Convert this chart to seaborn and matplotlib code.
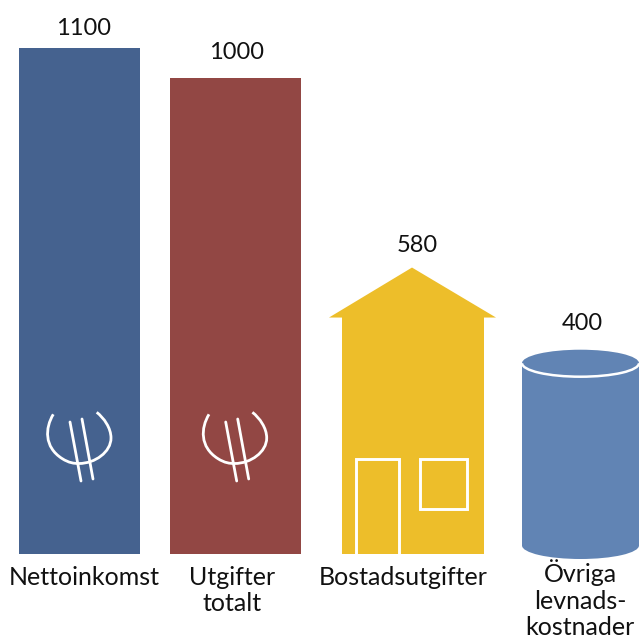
import pandas as pd
import matplotlib
matplotlib.use("Agg")
import matplotlib.pyplot as plt
import seaborn as sns
from matplotlib.patches import Arc, Ellipse, PathPatch, Polygon, Rectangle
from matplotlib.path import Path

# ----- Data -----------------------------------------------------------------
categories = ["Nettoinkomst", "Utgifter\ntotalt", "Bostadsutgifter", "Övriga\nlevnads-\nkostnader"]
value_labels = [1100, 1000, 580, 400]
# heights as drawn, the picture is not to scale with its labels
drawn_heights = [1102, 1037, 623, 444]
colors = ["#45628F", "#924744", "#EDBE2A", "#6184B4"]

# ----- Layout (pixels) ------------------------------------------------------
SIZE = 639
BASE = 553.5
PX = 0.459  # pixels per value unit
bar_left = [19, 170, 342, 522]
bar_right = [140, 301, 484, 639]
label_x = [84, 232, 403, 580]
label_pad = [9, 9, 9, 4]
label_spacing = [1.14, 1.14, 1.14, 1.19]
value_x = [84, 237, 417, 582]
value_gap = [13, 19, 16, 20]

sns.set_theme(style="white")
plt.rcParams["font.family"] = ["Lato", "DejaVu Sans"]

fig = plt.figure(figsize=(SIZE / 100, SIZE / 100), dpi=100)
ax = fig.add_axes([0, (SIZE - BASE) / SIZE, 1, BASE / SIZE])

df = pd.DataFrame({"x": [(l + r) / 2 for l, r in zip(bar_left, bar_right)],
                   "height": drawn_heights, "cat": categories})
sns.barplot(data=df, x="x", y="height", hue="cat", palette=colors, native_scale=True,
            dodge=False, legend=False, saturation=1, linewidth=0, ax=ax)

ax.set_xlim(0, SIZE)
ax.set_ylim(0, BASE / PX)
for s in ax.spines.values():
    s.set_visible(False)
ax.set_xlabel("")
ax.set_ylabel("")
ax.set_yticks([])
ax.set_xticks(label_x, categories)
ax.tick_params(axis="x", length=0, labelsize=18)
for tick, pad, sp in zip(ax.xaxis.get_major_ticks(), label_pad, label_spacing):
    tick.set_pad(pad)
    tick.label1.set_linespacing(sp)
    tick.label1.set_color("#111111")

bars = list(ax.patches)
for bar, l, r in zip(bars, bar_left, bar_right):
    bar.set_x(l)
    bar.set_width(r - l)

# ----- House: body stops at the eave, the roof takes the rest ---------------
house = bars[2]
h_top = drawn_heights[2]
eave = h_top - 50 / PX
house.set_height(eave + 2)
ax.add_patch(Polygon([(329, eave), (412, h_top), (496, eave)], closed=True,
                     facecolor=colors[2], edgecolor="none"))

# ----- Cylinder --------------------------------------------------------------
cyl = bars[3]
c_top = drawn_heights[3]
cap = 27 / PX
c_mid = (bar_left[3] + bar_right[3]) / 2
c_w = bar_right[3] - bar_left[3]
cyl.set_y(8 / PX)
cyl.set_height(c_top - cap / 2 - 8 / PX)
ax.add_patch(Ellipse((c_mid, 8 / PX), c_w, cap, facecolor=colors[3], edgecolor="none", clip_on=False))
ax.add_patch(Ellipse((c_mid, c_top - cap / 2), c_w, cap, facecolor=colors[3], edgecolor="none"))
ax.add_patch(Arc((c_mid, c_top - cap / 2), c_w, cap, theta1=180, theta2=360,
                 color="white", lw=1.8, zorder=5))

# ----- Value labels ----------------------------------------------------------
for x, h, v, gap in zip(value_x, drawn_heights, value_labels, value_gap):
    ax.text(x, h + gap / PX, str(v), ha="center", va="baseline", fontsize=17, color="#111111")

# ----- Icons, in pixels of the picture ---------------------------------------
deco = fig.add_axes([0, 0, 1, 1])
deco.set_xlim(0, SIZE)
deco.set_ylim(SIZE, 0)
deco.axis("off")
deco.patch.set_alpha(0)

for dx in [0, 155.7]:
    verts = [(53.3, 414.3), (45, 428), (44, 447), (62, 458.5), (69, 463), (74, 463.5), (79, 463.5),
             (95, 463.5), (111, 452), (111, 438), (111, 428), (104, 418), (96.7, 412.3)]
    codes = [Path.MOVETO] + [Path.CURVE4] * 12
    deco.add_patch(PathPatch(Path([(x + dx, y) for x, y in verts], codes), fill=False,
                             edgecolor="white", lw=2))
    deco.plot([70 + dx, 81 + dx], [422, 481], color="white", lw=2)
    deco.plot([82 + dx, 93 + dx], [419, 479], color="white", lw=2)

deco.plot([355.5, 355.5, 399, 399], [BASE, 458.5, 458.5, BASE], color="white", lw=2.1,
          solid_joinstyle="miter")
deco.add_patch(Rectangle((419.5, 458.5), 47.5, 50, fill=False, edgecolor="white", lw=2.1))

fig.savefig("out.png", dpi=100, facecolor="white")
plt.close(fig)
